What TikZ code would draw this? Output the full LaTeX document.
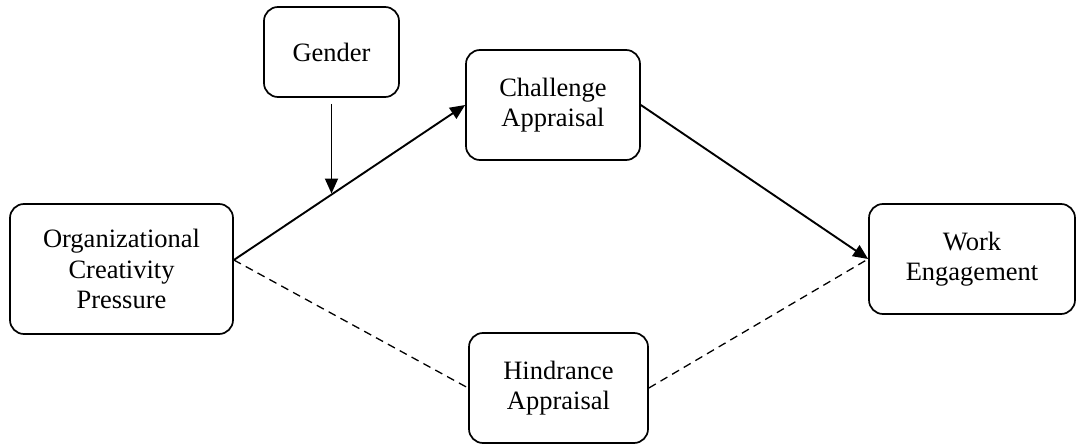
\documentclass[tikz,border=0pt]{standalone}
\usepackage{fontspec}
\setmainfont{Liberation Serif}
\usetikzlibrary{arrows.meta,calc}
\tikzset{
  boxnode/.style={draw=black, line width=1.7pt, rounded corners=14pt, align=center,
    inner sep=0pt, font=\fontsize{26.5}{30.5}\selectfont, fill=white},
  solidarrow/.style={line width=1.9pt, -{Triangle[length=15pt,width=13pt]}},
  dashline/.style={line width=1.3pt, dash pattern=on 8pt off 5.5pt},
}
\begin{document}
\begin{tikzpicture}[x=1pt,y=-1pt]
\useasboundingbox (0,0) rectangle (1077,444);
\node[boxnode, minimum width=135pt, minimum height=90pt] (gender) at (331.5,52) {Gender};
\node[boxnode, minimum width=174pt, minimum height=110pt] (ch) at (553,105) {Challenge\\Appraisal};
\node[boxnode, minimum width=223pt, minimum height=130pt] (ocp) at (121.5,269) {Organizational\\Creativity\\Pressure};
\node[boxnode, minimum width=179pt, minimum height=110pt] (hin) at (558.5,388) {Hindrance\\Appraisal};
\node[boxnode, minimum width=206pt, minimum height=110pt] (we) at (972,259) {Work\\Engagement};
\coordinate (os) at ($(ocp.east)+(0,-9)$);
\coordinate (m) at ($(os)!0.429!(ch.west)$);
\coordinate (gs) at ($(gender.south)+(0,6)$);
\draw[solidarrow] (os) -- (ch.west);
\draw[solidarrow] (ch.east) -- (we.west);
\draw[dashline] (os) -- (hin.west);
\draw[dashline] (hin.east) -- (we.west);
\draw[solidarrow] (gs) -- (gs |- m);
\end{tikzpicture}
\end{document}
